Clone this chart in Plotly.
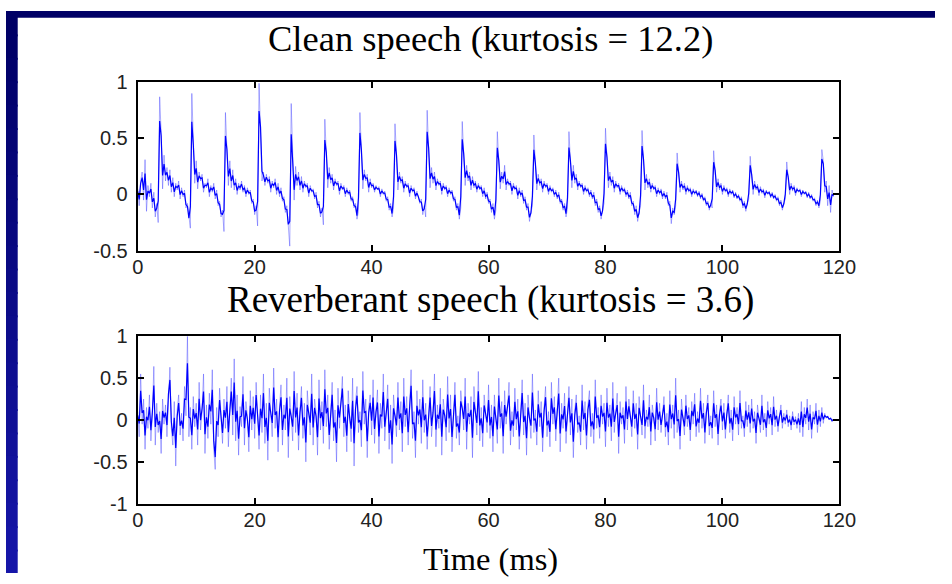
import numpy as np
import plotly.graph_objects as go

# Sample spacing of both recordings (ms)
SAMPLE_MS = 0.25

# Clean speech waveform: one row per pitch period
clean_speech = [
    0.05, -0.10, 0.12, 0.20, -0.05, 0.31, -0.15, 0.08, -0.02, 0.10, -0.12, 0.02, -0.20, -0.08, -0.25,
    0.87, 0.55, 0.05, 0.35, 0.12, 0.24, 0.08, 0.22, 0.02, 0.15, -0.02, 0.10, 0.04, 0.12, -0.04, 0.06, -0.02, 0.04, -0.12, -0.08, -0.22, -0.30,
    0.90, 0.42, 0.10, 0.30, 0.05, 0.20, 0.12, 0.18, 0.02, 0.10, 0.06, 0.14, -0.02, 0.08, 0.02, 0.10, -0.04, 0.04, -0.10, -0.06, -0.20, -0.14, -0.33,
    0.73, 0.40, 0.08, 0.30, 0.06, 0.22, 0.04, 0.14, 0.00, 0.10, 0.04, 0.12, 0.02, 0.08, -0.02, 0.06, 0.00, 0.04, -0.08, -0.04, -0.18, -0.10, -0.28,
    0.99, 0.62, 0.12, 0.20, 0.08, 0.18, 0.10, 0.16, 0.02, 0.12, 0.06, 0.14, 0.00, 0.10, -0.02, 0.06, -0.06, -0.02, -0.16, -0.10, -0.26, -0.46,
    0.81, 0.26, -0.05, 0.25, 0.08, 0.20, 0.04, 0.16, 0.02, 0.12, 0.06, 0.10, -0.02, 0.08, 0.02, 0.05, -0.04, 0.02, -0.12, -0.06, -0.20, -0.12, -0.27,
    0.67, 0.38, 0.06, 0.24, 0.10, 0.18, 0.04, 0.14, 0.08, 0.12, 0.00, 0.10, 0.04, 0.08, -0.02, 0.06, 0.00, 0.04, -0.06, -0.02, -0.12, -0.08, -0.22, -0.15,
    0.73, 0.40, 0.05, 0.22, 0.12, 0.18, 0.02, 0.14, 0.06, 0.10, 0.02, 0.08, 0.04, 0.07, -0.02, 0.05, 0.00, 0.03, -0.06, -0.02, -0.14, -0.08, -0.20, -0.12,
    0.63, 0.36, 0.04, 0.20, 0.10, 0.16, 0.02, 0.12, 0.06, 0.10, -0.02, 0.08, 0.02, 0.06, -0.04, 0.03, -0.02, -0.08, -0.04, -0.18, -0.10, -0.20,
    0.75, 0.42, 0.06, 0.24, 0.10, 0.20, 0.04, 0.14, 0.08, 0.12, 0.00, 0.10, 0.04, 0.08, -0.02, 0.06, 0.00, 0.04, -0.06, -0.02, -0.14, -0.08, -0.22, -0.12,
    0.65, 0.36, 0.08, 0.26, 0.12, 0.20, 0.04, 0.16, 0.06, 0.12, 0.02, 0.10, 0.04, 0.08, -0.02, 0.06, -0.04, 0.02, -0.08, -0.04, -0.16, -0.08, -0.22, -0.14,
    0.56, 0.30, 0.05, 0.20, 0.10, 0.26, 0.04, 0.14, 0.08, 0.12, 0.00, 0.10, 0.04, 0.08, -0.04, 0.06, -0.02, 0.04, -0.08, -0.02, -0.14, -0.08, -0.24, -0.16, -0.10,
    0.53, 0.28, 0.04, 0.18, 0.08, 0.14, 0.02, 0.12, 0.06, 0.10, 0.00, 0.08, 0.02, 0.06, -0.02, 0.04, -0.04, 0.02, -0.08, -0.04, -0.14, -0.08, -0.20, -0.12,
    0.56, 0.30, 0.06, 0.26, 0.10, 0.18, 0.04, 0.12, 0.06, 0.10, 0.00, 0.08, 0.02, 0.06, -0.02, 0.04, -0.04, 0.02, -0.10, -0.04, -0.16, -0.10, -0.22, -0.14, -0.08,
    0.59, 0.34, 0.06, 0.20, 0.08, 0.16, 0.02, 0.12, 0.06, 0.10, 0.00, 0.08, 0.02, 0.06, -0.02, 0.04, -0.04, 0.02, -0.10, -0.06, -0.18, -0.10, -0.24, -0.16, -0.10,
    0.57, 0.32, 0.04, 0.18, 0.06, 0.14, 0.02, 0.10, 0.04, 0.08, -0.02, 0.06, 0.00, 0.05, -0.04, 0.03, -0.04, 0.02, -0.10, -0.06, -0.26, -0.12, -0.18, -0.10,
    0.37, 0.20, 0.02, 0.12, 0.04, 0.10, 0.00, 0.08, 0.02, 0.06, -0.02, 0.05, 0.00, 0.04, -0.02, 0.03, -0.04, 0.01, -0.06, -0.02, -0.10, -0.06, -0.14, -0.08, -0.12,
    0.39, 0.22, 0.02, 0.14, 0.04, 0.10, 0.00, 0.08, 0.02, 0.06, -0.02, 0.05, 0.00, 0.04, -0.03, 0.02, -0.04, 0.00, -0.06, -0.02, -0.12, -0.06, -0.15, -0.08, -0.04,
    0.34, 0.18, 0.00, 0.12, 0.04, 0.09, -0.01, 0.07, 0.01, 0.05, -0.03, 0.04, 0.00, 0.03, -0.03, 0.02, -0.04, 0.00, -0.06, -0.02, -0.10, -0.05, -0.14, -0.08, -0.04,
    0.29, 0.16, 0.00, 0.10, 0.03, 0.08, -0.01, 0.06, 0.02, 0.05, -0.02, 0.04, 0.00, 0.03, -0.03, 0.02, -0.04, 0.00, -0.06, -0.03, -0.10, -0.05, -0.12, -0.06,
    0.40, 0.30, 0.02, 0.12, -0.10, 0.08, -0.16, 0.04, -0.02,
]

# Reverberant speech waveform: one row per 5 ms
reverberant_speech = [
    0.10, -0.20, 0.55, -0.05, 0.25, -0.35, 0.15, -0.10, 0.30, -0.25, 0.05, 0.64, -0.30, 0.20, -0.15, 0.10, -0.40, 0.25, -0.05, 0.18,
    -0.20, 0.35, 0.63, -0.10, -0.30, 0.22, -0.55, 0.12, 0.30, -0.18, 0.08, -0.25, 0.40, 0.05, 1.00, -0.20, 0.15, -0.35, 0.28, -0.08,
    0.20, -0.30, 0.45, -0.12, 0.10, 0.55, -0.40, 0.18, -0.22, 0.32, -0.05, 0.60, -0.35, -0.59, 0.15, -0.20, 0.38, 0.02, -0.28, 0.25,
    -0.10, 0.40, -0.32, 0.12, 0.50, -0.18, 0.73, -0.25, 0.30, -0.42, 0.16, -0.08, 0.52, -0.30, 0.22, 0.05, -0.38, 0.35, -0.12, 0.28,
    -0.22, 0.45, 0.10, -0.35, 0.30, -0.15, 0.55, -0.28, 0.20, -0.48, 0.38, 0.08, -0.20, 0.62, -0.10, 0.25, -0.38, 0.15, 0.42, -0.30,
    0.18, -0.12, 0.50, -0.45, 0.28, 0.05, -0.25, 0.58, -0.15, 0.32, -0.36, 0.12, 0.40, -0.22, 0.20, -0.50, 0.35, 0.08, -0.18, 0.55,
    -0.30, 0.25, 0.10, -0.42, 0.48, -0.12, 0.22, -0.28, 0.60, -0.08, 0.30, -0.35, 0.15, 0.45, -0.25, 0.12, -0.50, 0.38, -0.10, 0.28,
    0.52, -0.20, 0.18, -0.38, 0.35, 0.02, -0.26, 0.50, -0.55, 0.22, 0.40, -0.15, 0.10, -0.32, 0.58, -0.05, 0.25, -0.45, 0.15, 0.30,
    -0.18, 0.48, -0.28, 0.12, 0.36, -0.40, 0.20, -0.10, 0.55, -0.25, 0.08, 0.42, -0.35, 0.18, -0.52, 0.30, 0.05, -0.20, 0.45, -0.12,
    0.22, -0.38, 0.50, -0.08, 0.28, -0.30, 0.15, 0.60, -0.22, 0.10, -0.45, 0.35, -0.05, 0.25, -0.28, 0.48, -0.15, 0.20, -0.35, 0.12,
    0.40, -0.20, 0.05, 0.55, -0.32, 0.18, -0.10, 0.38, -0.42, 0.25, 0.08, -0.25, 0.52, -0.15, 0.30, -0.38, 0.12, 0.45, -0.22, 0.05,
    -0.30, 0.35, 0.15, -0.12, 0.50, -0.35, 0.20, -0.05, 0.28, -0.45, 0.40, 0.02, -0.18, 0.58, -0.25, 0.15, -0.32, 0.30, 0.08, -0.15,
    0.42, -0.22, 0.18, -0.38, 0.30, 0.05, -0.28, 0.50, -0.10, 0.22, -0.40, 0.35, -0.05, 0.15, 0.45, -0.30, 0.10, -0.20, 0.38, -0.12,
    0.25, -0.35, 0.08, 0.48, -0.18, 0.20, -0.42, 0.30, 0.02, -0.22, 0.55, -0.15, 0.12, -0.30, 0.35, -0.08, 0.22, -0.38, 0.15, 0.40,
    -0.20, 0.10, -0.32, 0.45, -0.05, 0.28, -0.25, 0.15, 0.50, -0.38, 0.20, -0.10, 0.32, -0.28, 0.08, 0.40, -0.18, 0.25, -0.45, 0.12,
    0.30, -0.15, 0.05, -0.30, 0.42, -0.12, 0.22, -0.35, 0.18, 0.35, -0.20, 0.08, -0.28, 0.48, -0.10, 0.15, -0.22, 0.30, -0.05, 0.20,
    -0.32, 0.38, -0.08, 0.18, -0.25, 0.45, -0.15, 0.10, 0.32, -0.40, 0.22, -0.05, 0.15, -0.28, 0.40, -0.12, 0.25, 0.05, -0.20, 0.35,
    -0.10, 0.20, -0.35, 0.28, 0.02, -0.18, 0.42, -0.22, 0.12, -0.08, 0.30, -0.30, 0.18, 0.05, -0.25, 0.38, -0.12, 0.20, -0.15, 0.10,
    0.28, -0.20, 0.08, -0.30, 0.35, -0.10, 0.18, -0.22, 0.50, -0.15, 0.12, -0.35, 0.25, 0.02, -0.18, 0.30, -0.08, 0.15, -0.25, 0.22,
    -0.05, 0.32, -0.20, 0.10, -0.15, 0.38, -0.10, 0.20, -0.28, 0.12, 0.30, -0.18, 0.05, -0.22, 0.35, -0.08, 0.18, -0.30, 0.10, 0.25,
    -0.12, 0.20, -0.22, 0.08, 0.30, -0.15, 0.12, -0.25, 0.28, -0.05, 0.15, -0.18, 0.35, -0.10, 0.05, -0.20, 0.22, -0.08, 0.18, -0.15,
    0.25, -0.10, 0.10, -0.28, 0.18, 0.02, -0.15, 0.30, -0.12, 0.08, -0.20, 0.22, -0.05, 0.15, -0.18, 0.28, -0.08, 0.12, -0.14, 0.05,
    0.18, -0.10, 0.08, -0.05, 0.12, -0.08, 0.05, -0.12, 0.10, -0.06, 0.04, -0.10, 0.08, -0.15, 0.22, -0.20, 0.15, -0.05, 0.25, -0.12,
    0.18, -0.22, 0.10, -0.05, 0.20, -0.15, 0.12, -0.08, 0.15, -0.04, 0.08, 0.02, 0.05, 0.00, 0.03, -0.02, 0.01,
]

x_tick_vals = [0, 20, 40, 60, 80, 100, 120]
x_tick_text = ["0", "20", "40", "60", "80", "100", "120"]
clean_y_vals = [-0.5, 0, 0.5, 1]
clean_y_text = ["-0.5", "0", "0.5", "1"]
reverb_y_vals = [-1, -0.5, 0, 0.5, 1]
reverb_y_text = ["-1", "-0.5", "0", "0.5", "1"]

TITLE_CLEAN = "Clean speech (kurtosis = 12.2)"
TITLE_REVERB = "Reverberant speech (kurtosis = 3.6)"
X_LABEL = "Time (ms)"

W, H = 952, 584


def trend(sig):
    """Light 3-tap running average used for the darker core of the waveform."""
    s = np.asarray(sig, dtype=float)
    padded = np.concatenate([s[:1], s, s[-1:]])
    return 0.15 * padded[:-2] + 0.7 * padded[1:-1] + 0.15 * padded[2:]


fig = go.Figure()
for sig, xa, ya in [(clean_speech, "x", "y"), (reverberant_speech, "x2", "y2")]:
    t = np.arange(len(sig)) * SAMPLE_MS
    # full-rate samples in a pale stroke
    fig.add_trace(go.Scatter(x=t, y=sig, mode="lines",
                             line=dict(color="rgba(70,70,255,0.45)", width=1),
                             xaxis=xa, yaxis=ya, showlegend=False, hoverinfo="skip"))
    # core of the trace drawn on top in saturated blue
    fig.add_trace(go.Scatter(x=t, y=trend(sig), mode="lines",
                             line=dict(color="#0000ff", width=1.2),
                             xaxis=xa, yaxis=ya, showlegend=False, hoverinfo="skip"))


def px_x(p):
    return p / W


def px_y(p):
    return 1 - p / H


tick_font = dict(family="Liberation Sans, Arial, sans-serif", size=20, color="#222222")
axis_common = dict(showline=True, linecolor="black", linewidth=2, mirror="ticks",
                   ticks="inside", ticklen=6, tickwidth=1.5, tickcolor="black",
                   showgrid=False, zeroline=False, tickfont=tick_font, fixedrange=True)
x_axis_common = dict(axis_common, ticklabelstandoff=-3)
y_axis_common = dict(axis_common, ticklabelstandoff=4)

x_dom = [px_x(135), px_x(854)]

fig.update_layout(
    width=W, height=H,
    margin=dict(l=0, r=0, t=0, b=0),
    paper_bgcolor="white", plot_bgcolor="white",
    xaxis=dict(domain=x_dom, range=[0, 120], tickvals=x_tick_vals, ticktext=x_tick_text,
               anchor="y", **x_axis_common),
    yaxis=dict(domain=[px_y(249), px_y(74)], range=[-0.5, 1], tickvals=clean_y_vals,
               ticktext=clean_y_text, anchor="x", **y_axis_common),
    xaxis2=dict(domain=x_dom, range=[0, 120], tickvals=x_tick_vals, ticktext=x_tick_text,
                anchor="y2", **x_axis_common),
    yaxis2=dict(domain=[px_y(512), px_y(338)], range=[-1, 1], tickvals=reverb_y_vals,
                ticktext=reverb_y_text, anchor="x2", **y_axis_common),
)

serif_family = "Liberation Serif, Times New Roman, serif"
for text, yc, size in [(TITLE_CLEAN, 29, 36.5), (TITLE_REVERB, 300, 37), (X_LABEL, 569, 32.5)]:
    fig.add_annotation(text=text, x=497 / W, y=px_y(yc), xref="paper", yref="paper",
                       xanchor="center", yanchor="middle", showarrow=False,
                       font=dict(family=serif_family, size=size, color="black"))

# Slide frame: dark band on top, shaded band down the left side
shapes = []
bands = 24
for i in range(bands):
    f = i / (bands - 1)
    r = int(22 * f)
    g = int(22 * f)
    b = int(102 + 66 * f)
    y_top = H * i / bands
    y_bot = min(H, H * (i + 1) / bands + 2)
    shapes.append(dict(type="rect", xref="paper", yref="paper",
                       x0=0, x1=px_x(12), y0=px_y(y_bot), y1=px_y(y_top),
                       fillcolor=f"rgb({r},{g},{b})", line_width=0, layer="above"))
shapes.append(dict(type="rect", xref="paper", yref="paper", x0=0, x1=1, y0=px_y(7), y1=1,
                   fillcolor="#000066", line_width=0, layer="above"))
fig.update_layout(shapes=shapes)

fig.write_html("out.html")
